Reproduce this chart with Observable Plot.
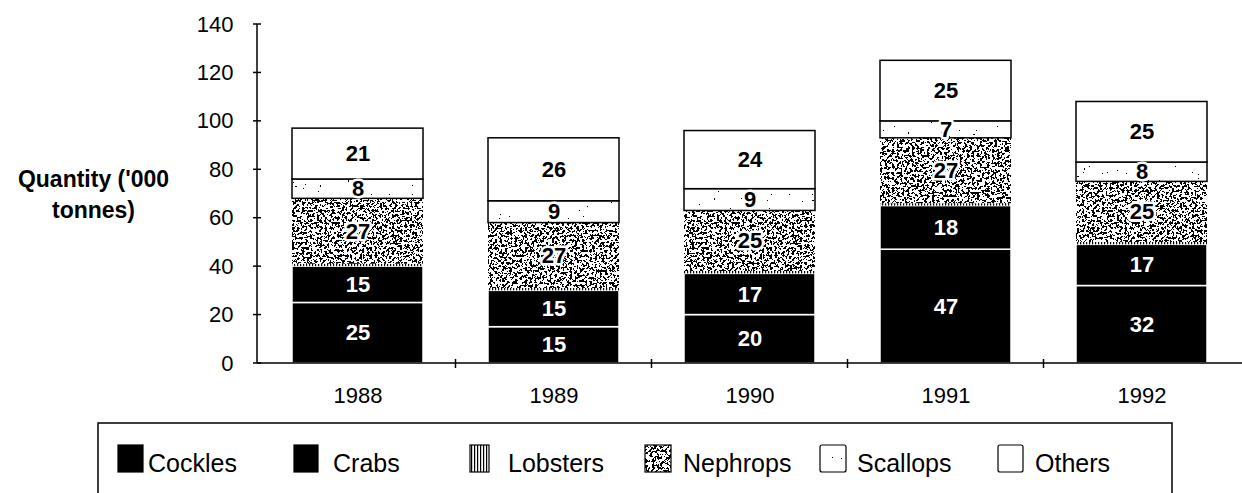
<!DOCTYPE html>
<html>
<head>
<meta charset="utf-8">
<script src="https://cdn.jsdelivr.net/npm/d3@7"></script>
<script src="https://cdn.jsdelivr.net/npm/@observablehq/plot@0.6"></script>
<style>
  html, body { margin: 0; padding: 0; background: #fff; }
  #wrap { position: relative; width: 1242px; height: 493px; overflow: hidden; font-family: "Liberation Sans", Arial, sans-serif; }
  #chart { position: absolute; left: 0; top: 0; }
  #legend { position: absolute; left: 0; top: 410px; }
</style>
</head>
<body>
<svg width="0" height="0" style="position:absolute">
  <defs>
    <filter id="fNeph" x="0" y="0" width="1" height="1" color-interpolation-filters="sRGB">
      <feTurbulence type="fractalNoise" baseFrequency="0.4" numOctaves="3" seed="7" result="n"/>
      <feColorMatrix in="n" type="matrix" values="0.33 0.33 0.33 0 0  0.33 0.33 0.33 0 0  0.33 0.33 0.33 0 0  0 0 0 0 1" result="g"/>
      <feComponentTransfer in="g" result="t">
        <feFuncR type="discrete" tableValues="0 0 0 0 0 0 0 0 0 0 0 0 1 1 1 1 1 1 1 1 1 1 1 1 1"/>
        <feFuncG type="discrete" tableValues="0 0 0 0 0 0 0 0 0 0 0 0 1 1 1 1 1 1 1 1 1 1 1 1 1"/>
        <feFuncB type="discrete" tableValues="0 0 0 0 0 0 0 0 0 0 0 0 1 1 1 1 1 1 1 1 1 1 1 1 1"/>
      </feComponentTransfer>
      <feComposite in="t" in2="SourceGraphic" operator="in"/>
    </filter>
    <filter id="fScal" x="0" y="0" width="1" height="1" color-interpolation-filters="sRGB">
      <feTurbulence type="fractalNoise" baseFrequency="0.5" numOctaves="2" seed="3" result="n"/>
      <feColorMatrix in="n" type="matrix" values="0.33 0.33 0.33 0 0  0.33 0.33 0.33 0 0  0.33 0.33 0.33 0 0  0 0 0 0 1" result="g"/>
      <feComponentTransfer in="g" result="t">
        <feFuncR type="discrete" tableValues="0 0 0 0 0 0 0 0 1 1 1 1 1 1 1 1 1 1 1 1 1 1 1 1 1"/>
        <feFuncG type="discrete" tableValues="0 0 0 0 0 0 0 0 1 1 1 1 1 1 1 1 1 1 1 1 1 1 1 1 1"/>
        <feFuncB type="discrete" tableValues="0 0 0 0 0 0 0 0 1 1 1 1 1 1 1 1 1 1 1 1 1 1 1 1 1"/>
      </feComponentTransfer>
      <feComposite in="t" in2="SourceGraphic" operator="in"/>
    </filter>
    <pattern id="neph" patternUnits="userSpaceOnUse" width="400" height="400">
      <rect width="400" height="400" fill="#fff" filter="url(#fNeph)"/>
    </pattern>
    <pattern id="scal" patternUnits="userSpaceOnUse" width="400" height="400">
      <rect width="400" height="400" fill="#fff" filter="url(#fScal)"/>
    </pattern>
    <pattern id="lob" patternUnits="userSpaceOnUse" width="3" height="10">
      <rect width="3" height="10" fill="#fff"/>
      <rect width="1.2" height="10" fill="#000"/>
    </pattern>
  </defs>
</svg>
<div id="wrap">
  <div id="chart"></div>
  <div id="legend"></div>
</div>
<script>
// ---- data ----
const years = ["1988", "1989", "1990", "1991", "1992"];
const seriesNames = ["Cockles", "Crabs", "Lobsters", "Nephrops", "Scallops", "Others"];
const cockles  = [25, 15, 20, 47, 32];
const crabs    = [15, 15, 17, 18, 17];
const lobsters = [1, 1, 1, 1, 1];
const nephrops = [27, 27, 25, 27, 25];
const scallops = [8, 9, 9, 7, 8];
const others   = [21, 26, 24, 25, 25];
const yTicks = [0, 20, 40, 60, 80, 100, 120, 140];
const yLabel = "Quantity ('000\ntonnes)";

// ---- styles ----
const FONT = '"Liberation Sans", Arial, sans-serif';
const fills = {Cockles: "#000", Crabs: "#000", Lobsters: "url(#lob)", Nephrops: "url(#neph)", Scallops: "url(#scal)", Others: "#fff"};
const strokes = {Cockles: "#fff", Crabs: "#fff", Lobsters: "none", Nephrops: "none", Scallops: "#000", Others: "#000"};
const textFills = {Cockles: "#fff", Crabs: "#fff", Lobsters: "#000", Nephrops: "#000", Scallops: "#000", Others: "#000"};
const textHalos = {Cockles: "none", Crabs: "none", Lobsters: "none", Nephrops: "#fff", Scallops: "#fff", Others: "none"};

const valuesBySeries = [cockles, crabs, lobsters, nephrops, scallops, others];
const table = years.flatMap((year, i) =>
  seriesNames.map((series, j) => ({year, series, value: valuesBySeries[j][i]}))
);

function axisLines(index, scales, values, dims) {
  const g = d3.create("svg:g").attr("stroke", "#000").attr("stroke-width", 1.5).attr("fill", "none");
  const x0 = dims.marginLeft;
  const yb = scales.y(0), yt = scales.y(yTicks[yTicks.length - 1]);
  g.append("line").attr("x1", x0).attr("x2", x0).attr("y1", yt).attr("y2", yb);
  g.append("line").attr("x1", x0).attr("x2", dims.width).attr("y1", yb).attr("y2", yb);
  for (const t of yTicks) {
    const y = scales.y(t);
    g.append("line").attr("x1", x0 - 4).attr("x2", x0 + 4).attr("y1", y).attr("y2", y);
  }
  const bwRaw = scales.x.bandwidth;
  const bw = typeof bwRaw === "function" ? bwRaw() : bwRaw;
  for (let i = 1; i < years.length; i++) {
    const xm = (scales.x(years[i - 1]) + bw + scales.x(years[i])) / 2;
    g.append("line").attr("x1", xm).attr("x2", xm).attr("y1", yb - 4).attr("y2", yb + 5);
  }
  return g.node();
}

const chart = Plot.plot({
  width: 1242,
  height: 410,
  marginLeft: 257,
  marginRight: 0,
  marginTop: 24,
  marginBottom: 47,
  x: {domain: years, paddingInner: 0.33, paddingOuter: 0.17},
  y: {domain: [0, 140]},
  color: {type: "identity"},
  style: {fontFamily: FONT, background: "#fff", color: "#000", overflow: "visible"},
  marks: [
    Plot.barY(table, Plot.stackY({
      x: "year", y: "value", z: "series",
      fill: d => fills[d.series],
      stroke: d => strokes[d.series],
      strokeWidth: 1.5
    })),
    Plot.text(table, Plot.stackY({
      x: "year", y: "value", z: "series",
      text: d => d.series === "Lobsters" ? null : String(d.value),
      fill: d => textFills[d.series],
      stroke: d => textHalos[d.series],
      strokeWidth: 5,
      paintOrder: "stroke",
      fontSize: 22, fontWeight: "bold"
    })),
    Plot.axisX({tickSize: 0, tickPadding: 24, fontSize: 22, label: null}),
    Plot.axisY({ticks: yTicks, tickSize: 0, tickPadding: 24, fontSize: 22, label: null}),
    axisLines,
    Plot.text([yLabel], {
      frameAnchor: "left", dx: -164, dy: -1,
      textAnchor: "middle", fontWeight: "bold", fontSize: 23, lineHeight: 1.35
    })
  ]
});
document.getElementById("chart").appendChild(chart);

// ---- legend ----
const legendItems = [
  {name: "Cockles",  sx: 118, sw: 25, tx: 148},
  {name: "Crabs",    sx: 294, sw: 24, tx: 333},
  {name: "Lobsters", sx: 470, sw: 19, tx: 508},
  {name: "Nephrops", sx: 645, sw: 26, tx: 683},
  {name: "Scallops", sx: 820, sw: 26, tx: 857},
  {name: "Others",   sx: 998, sw: 25, tx: 1035}
];
const lg = d3.create("svg").attr("width", 1242).attr("height", 83)
  .style("font-family", FONT);
lg.append("rect").attr("x", 98).attr("y", 13).attr("width", 1074).attr("height", 120)
  .attr("fill", "none").attr("stroke", "#000").attr("stroke-width", 1.5);
for (const it of legendItems) {
  const f = fills[it.name];
  lg.append("rect").attr("x", it.sx).attr("y", 35).attr("width", it.sw).attr("height", 27)
    .attr("fill", f).attr("stroke", "#000").attr("stroke-width", 1.2).attr("rx", f === "#fff" || it.name === "Scallops" ? 2 : 0);
  lg.append("text").attr("x", it.tx).attr("y", 62).attr("font-size", 25).attr("fill", "#000").text(it.name);
}
document.getElementById("legend").appendChild(lg.node());
</script>
</body>
</html>
